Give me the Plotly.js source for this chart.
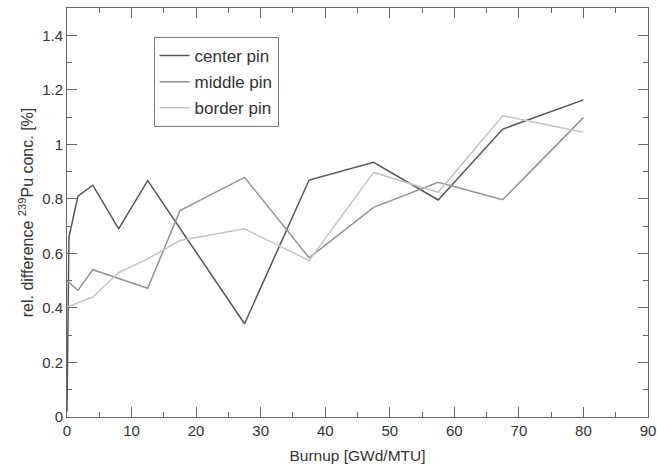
<!DOCTYPE html>
<html>
<head>
<meta charset="utf-8">
<script src="https://cdn.plot.ly/plotly-3.0.1.min.js"></script>
<style>html,body{margin:0;padding:0;background:#fff;}#chart{width:657px;height:471px;}</style>
</head>
<body>
<div id="chart"></div>
<script>
// Burnup [GWd/MTU]
const centerX = [0, 0.3, 1.7, 4, 8, 12.5, 27.5, 37.5, 47.5, 57.5, 67.5, 80];
const centerY = [0.02, 0.66, 0.81, 0.85, 0.69, 0.867, 0.342, 0.869, 0.934, 0.796, 1.056, 1.163];

const middleX = [0, 1.7, 4, 12.5, 17.5, 27.5, 37.5, 47.5, 57.5, 67.5, 80];
const middleY = [0.50, 0.464, 0.54, 0.472, 0.757, 0.879, 0.584, 0.769, 0.861, 0.797, 1.098];

const borderX = [0, 4, 8, 12.5, 17.5, 27.5, 37.5, 47.5, 57.5, 67.5, 80];
const borderY = [0.403, 0.44, 0.53, 0.58, 0.647, 0.69, 0.574, 0.897, 0.824, 1.105, 1.044];

const seriesNames = ["center pin", "middle pin", "border pin"];

const font = "Liberation Sans, Arial, sans-serif";
const traces = [
  {x: centerX, y: centerY, name: seriesNames[0], mode: "lines", line: {color: "#555555", width: 1.5}, legendgroup: "a"},
  {x: middleX, y: middleY, name: seriesNames[1], mode: "lines", line: {color: "#929292", width: 1.5}, legendgroup: "b"},
  {x: borderX, y: borderY, name: seriesNames[2], mode: "lines", line: {color: "#c4c4c4", width: 1.5}, legendgroup: "c"}
];

const axisCommon = {
  showgrid: false, zeroline: false,
  showline: true, linecolor: "#666", linewidth: 1,
  mirror: "allticks",
  ticks: "inside", ticklen: 10, tickcolor: "#666", tickwidth: 1,
  tickfont: {family: font, size: 15, color: "#333"},
  minor: {ticks: "inside", ticklen: 5, tickcolor: "#666", tickwidth: 1}
};

const layout = {
  width: 657, height: 471,
  margin: {l: 66.5, r: 9.3, t: 8.3, b: 54.3},
  paper_bgcolor: "#fff", plot_bgcolor: "#fff",
  font: {family: font, color: "#333"},
  showlegend: true,
  legend: {
    x: 0.149, y: 0.929, xanchor: "left", yanchor: "top",
    bordercolor: "#777", borderwidth: 1, bgcolor: "#fff",
    font: {family: font, size: 17, color: "#333"},
    tracegroupgap: 1
  },
  xaxis: Object.assign({}, axisCommon, {
    range: [0, 90], dtick: 10, tick0: 0,
    minor: Object.assign({}, axisCommon.minor, {dtick: 5}),
    title: {text: "Burnup [GWd/MTU]", font: {family: font, size: 15.5, color: "#333"}, standoff: 12}
  }),
  yaxis: Object.assign({}, axisCommon, {
    range: [0, 1.5], dtick: 0.2, tick0: 0,
    minor: Object.assign({}, axisCommon.minor, {dtick: 0.1}),
    title: {text: "rel. difference <sup>239</sup>Pu conc. [%]", font: {family: font, size: 16, color: "#333"}, standoff: 4}
  })
};

Plotly.newPlot("chart", traces, layout, {displayModeBar: false, staticPlot: true});
</script>
</body>
</html>
